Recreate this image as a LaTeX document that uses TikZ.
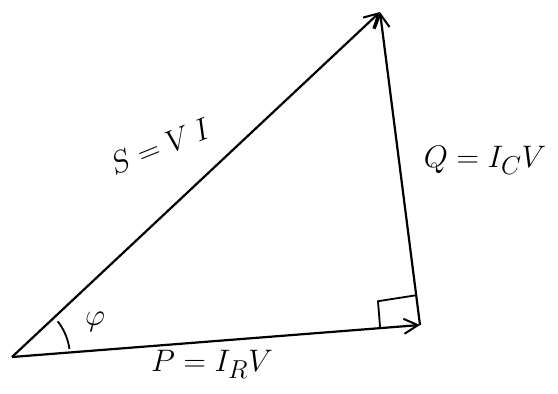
\documentclass[tikz,border=0pt]{standalone}
\usetikzlibrary{calc,arrows.meta}

\tikzset{
	phasor/.style={line width=2.2pt, -{Straight Barb[length=14pt,width=15pt,line width=2pt]}},
	lbl/.style={font=\Huge, scale=1.25}
}

\begin{document}
\begin{tikzpicture}[x=1pt, y=-1pt, line width=1.8pt]
			\useasboundingbox (0,0) rectangle (558,394);
			
			\coordinate (O) at (12,357);
			\coordinate (P) at (420,325);
			\coordinate (S) at (380,12);
			
			\draw[phasor] (O) -- (P);
			\draw[phasor] (P) -- (S);
			\draw[phasor] (O) -- (S);
			
			% right angle
			\coordinate (c1) at ($(P)!40pt!(O)$);
			\coordinate (c2) at ($(c1)!27pt!90:(P)$);
			\coordinate (c3) at ($(P)!30pt!(S)$);
			\draw (c1) -- (c2) -- (c3);
			
			% angle (y axis points down here)
			\draw ($(O)+(-8:58)$) arc[start angle=-8, end angle=-38, radius=58];
			\node[lbl] (phi) at (95,322) {$\varphi$};
			
			\node[lbl, rotate=22] (slabel) at (160,146) {$S = V\,I$};
			\node[lbl] (qlabel) at (485,160) {$Q = I_C V$};
			\node[lbl] (plabel) at (212,364) {$P = I_R V$};
		\end{tikzpicture}
\end{document}
